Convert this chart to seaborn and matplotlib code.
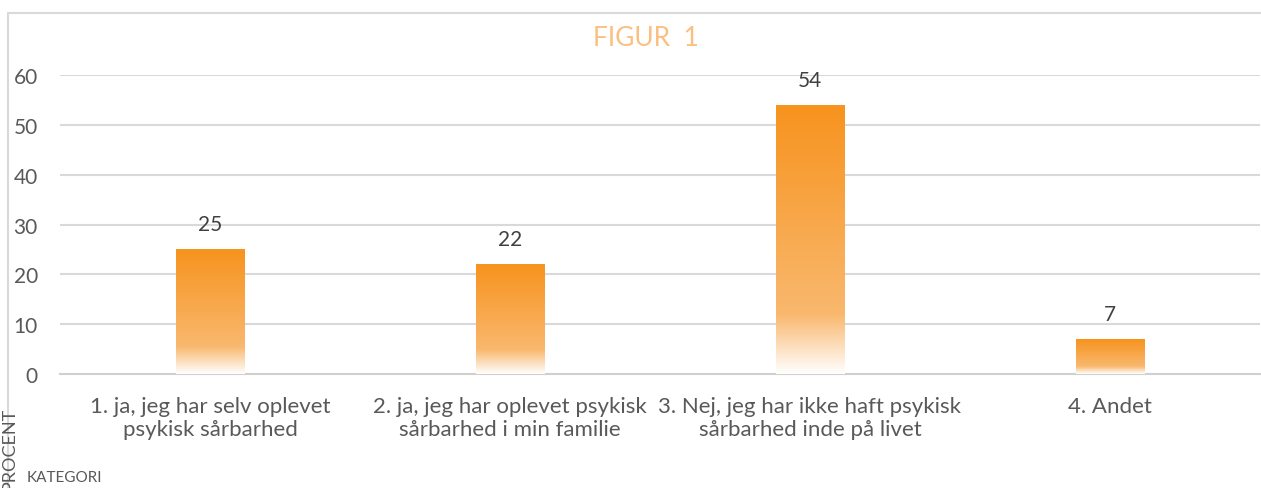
import numpy as np
import pandas as pd
import seaborn as sns
import matplotlib.pyplot as plt
from matplotlib.colors import LinearSegmentedColormap
from matplotlib.patches import Rectangle

categories = ["1. ja, jeg har selv oplevet\npsykisk sårbarhed",
              "2. ja, jeg har oplevet psykisk\nsårbarhed i min familie",
              "3. Nej, jeg har ikke haft psykisk\nsårbarhed inde på livet",
              "4. Andet"]
values = [25, 22, 54, 7]
yticks = [0, 10, 20, 30, 40, 50, 60]

sns.set_theme(style="white")
plt.rcParams["font.family"] = ["Lato", "DejaVu Sans"]

df = pd.DataFrame({"kategori": categories, "procent": values})

fig = plt.figure(figsize=(12.61, 4.89), dpi=100)
ax = fig.add_axes([60 / 1261, 114 / 489, 1200 / 1261, 299 / 489])

sns.barplot(data=df, x="kategori", y="procent", width=0.227, ax=ax,
            color="#F7941D", saturation=1, zorder=3)

# gradient fill, orange at top fading to white at the base
grad = LinearSegmentedColormap.from_list(
    "bar", [(0.0, "#FFFFFF"), (0.22, "#F9B86E"), (1.0, "#F7931E")])
img = np.linspace(0, 1, 256).reshape(-1, 1)
for p in ax.patches:
    x0, y0 = p.get_x(), p.get_y()
    w, h = p.get_width(), p.get_height()
    im = ax.imshow(img, cmap=grad, origin="lower", aspect="auto",
                   extent=[x0, x0 + w, y0, y0 + h], zorder=3)
    im.set_clip_path(p)
    p.set_facecolor("none")
    p.set_edgecolor("none")
    ax.text(x0 + w / 2, h + 3.0, str(int(h)), ha="center", va="bottom",
            fontsize=15, color="#404040")

ax.set_xlim(-0.5, 3.5)
ax.set_ylim(0, 60)
ax.set_yticks(yticks)
ax.yaxis.grid(True, color="#D9D9D9", linewidth=1.5, zorder=0)
ax.set_axisbelow(True)
for s in ["top", "right", "left"]:
    ax.spines[s].set_visible(False)
ax.spines["bottom"].set_color("#D0D0D0")
ax.spines["bottom"].set_linewidth(1.5)
ax.tick_params(axis="y", labelsize=15, labelcolor="#595959", length=0, pad=16)
ax.tick_params(axis="x", labelsize=16, labelcolor="#595959", length=0, pad=16)
ax.set_xlabel("")
ax.set_ylabel("")

fig.text(646 / 1261, 1 - 38 / 489, "FIGUR  1", ha="center", va="center",
         fontsize=19, color="#FBBF80")
fig.text(1 / 1261, -0.004, "PROCENT", rotation=90, ha="left", va="bottom",
         fontsize=13, color="#595959")
fig.text(27 / 1261, 11 / 489, "KATEGORI", ha="left", va="center",
         fontsize=11, color="#595959")

fig.patches.append(Rectangle((8 / 1261, -0.1), 1.2, 1.1 - 14 / 489,
                             transform=fig.transFigure, fill=False,
                             edgecolor="#D9D9D9", linewidth=1.5))

fig.savefig("out.png", dpi=100)
